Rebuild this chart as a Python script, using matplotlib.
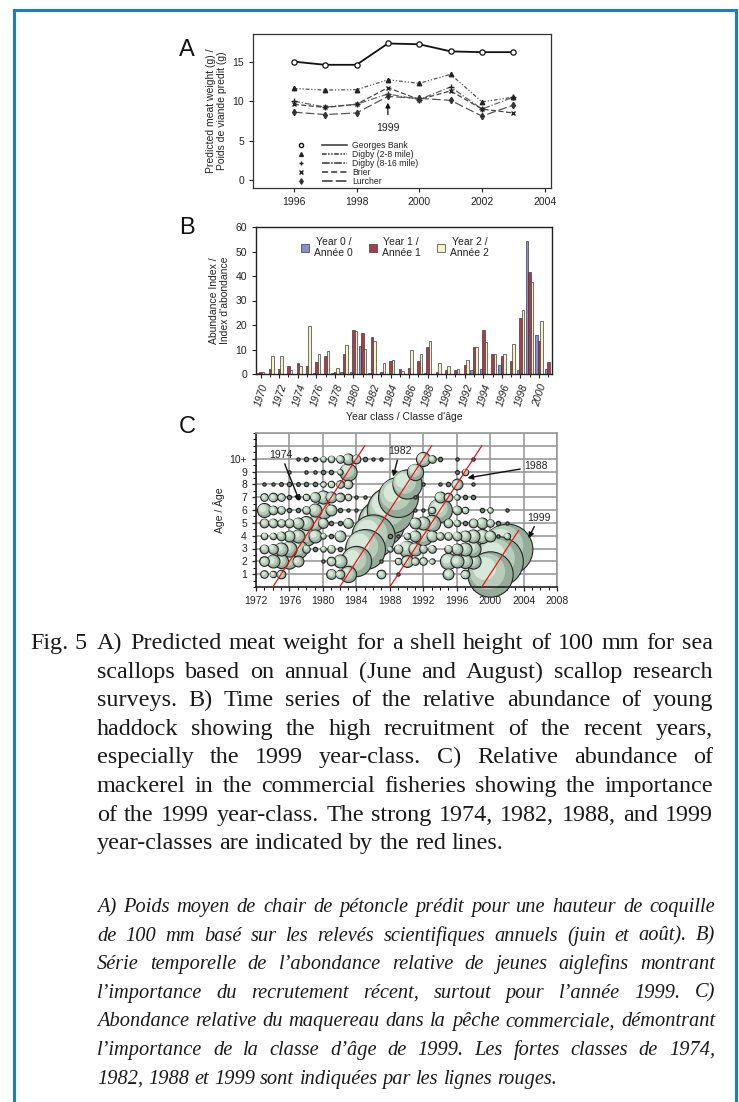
import numpy as np
import matplotlib
matplotlib.use('Agg')
import matplotlib.pyplot as plt
from matplotlib.lines import Line2D
from matplotlib.legend_handler import HandlerTuple
from matplotlib.transforms import offset_copy
from matplotlib.font_manager import FontProperties

plt.rcParams['font.family'] = ['Liberation Sans', 'DejaVu Sans']

W, H = 739, 1102

# ---------------- Panel A: predicted meat weight ----------------
years_a = [1996, 1997, 1998, 1999, 2000, 2001, 2002, 2003]
georges_bank = [15.0, 14.6, 14.6, 17.3, 17.2, 16.3, 16.2, 16.2]
digby_2_8 = [11.6, 11.4, 11.45, 12.7, 12.25, 13.4, 9.9, 10.5]
digby_8_16 = [10.0, 9.25, 9.6, 10.9, 10.2, 11.8, 9.0, 10.5]
brier = [9.6, 9.2, 9.6, 11.7, 10.2, 11.3, 9.0, 8.5]
lurcher = [8.6, 8.3, 8.5, 10.6, 10.35, 10.1, 8.1, 9.5]

# ---------------- Panel B: haddock abundance index ----------------
years_b = list(range(1970, 2002))
year0 = [0.3, 0, 0, 0, 0, 0, 0.3, 0, 0.5, 0.8, 1.0, 11.5, 0.5, 0, 0, 0,
         0, 0, 0.5, 0, 0, 0, 0, 1.5, 2.0, 0, 3.5, 0, 1.7, 54.2, 16.0, 2.2]
year1 = [1.0, 2.2, 2.2, 3.4, 4.4, 3.3, 4.8, 7.2, 0.8, 8.2, 17.9, 16.7, 15.3, 1.0, 5.3, 2.1,
         2.4, 5.3, 10.9, 0.8, 1.7, 1.7, 3.5, 11.2, 17.9, 8.2, 7.2, 5.4, 22.9, 41.5, 13.5, 4.7]
year2 = [0.7, 7.2, 7.4, 1.6, 3.4, 19.6, 8.1, 9.2, 2.3, 11.8, 17.6, 10.2, 13.6, 4.4, 5.8, 1.1,
         9.7, 8.1, 13.3, 4.4, 3.1, 2.1, 5.6, 11.1, 13.0, 8.1, 8.1, 12.4, 26.1, 37.6, 21.7, 0]

# ---------------- Panel C: mackerel catch at age (relative index) ----------------
years_c = list(range(1973, 2003))
#          73 74 75 76 77 78 79 80 81 82 83 84 85 86 87 88 89 90 91 92 93 94 95 96 97 98 99 00 01 02
age1 = [7, 6, 8, 0, 0, 0, 0, 0, 9, 8, 15, 0, 0, 0, 8, 0, 3, 0, 0, 0, 0, 0, 10, 0, 8, 0, 0, 42, 0, 0]
age2 = [9, 12, 13, 14, 10, 0, 0, 3, 8, 12, 0, 28, 0, 0, 3, 0, 6, 11, 7, 7, 5, 0, 15, 12, 13, 14, 0, 0, 46, 0]
age3 = [8, 9, 12, 14, 17, 7, 4, 5, 7, 4, 0, 0, 37, 0, 0, 5, 8, 15, 12, 7, 7, 0, 7, 10, 12, 14, 0, 0, 0, 47]
age4 = [6, 6, 8, 10, 12, 18, 12, 5, 4, 10, 0, 0, 0, 40, 0, 4, 3, 6, 10, 17, 10, 7, 7, 8, 10, 12, 13, 10, 3, 6]
age5 = [8, 8, 7, 8, 10, 13, 14, 9, 4, 4, 9, 0, 0, 0, 43, 0, 0, 0, 10, 12, 15, 0, 8, 6, 4, 8, 10, 7, 4, 3]
age6 = [13, 8, 7, 4, 4, 7, 12, 16, 10, 4, 3, 3, 0, 0, 0, 43, 0, 0, 3, 3, 6, 22, 0, 8, 6, 0, 4, 5, 0, 3]
age7 = [7, 8, 7, 4, 4, 6, 9, 12, 10, 8, 6, 3, 3, 0, 0, 0, 37, 0, 3, 0, 0, 10, 8, 5, 4, 4, 0, 0, 0, 0]
age8 = [3, 3, 3.5, 4, 3.5, 4, 4, 5, 6, 7, 8, 0, 0, 0, 0, 0, 0, 27, 0, 3, 0, 3, 4, 10, 0, 3, 0, 0, 0, 0]
age9 = [0, 0, 0, 3, 0, 3, 3, 4, 4, 5, 16, 0, 0, 0, 0, 0, 0, 0, 15, 0, 0, 0, 0, 3.5, 6, 0, 0, 0, 0, 0]
age10 = [0, 0, 0, 0, 3, 4, 4, 5, 6, 7, 10, 8, 4, 3, 3, 0, 0, 0, 0, 13, 7, 4, 0, 3, 0, 3, 0, 0, 0, 0]
ages_c = [age1, age2, age3, age4, age5, age6, age7, age8, age9, age10]
strong_classes = [1974, 1982, 1988, 1999]
strong_max_age = [11, 11, 11, 4.4]

fig = plt.figure(figsize=(W / 100, H / 100), dpi=100)


def px_axes(l, t, r, b):
    return fig.add_axes([l / W, 1 - b / H, (r - l) / W, (b - t) / H])


TXT = '#222222'
TICK = 7.5

# ---- A ----
axA = px_axes(253, 34, 551, 188)
axA.plot(years_a, georges_bank, '-', color='#111111', lw=1.3, marker='o', ms=3.8,
         mfc='white', mec='#111111', mew=0.9, zorder=5)
axA.plot(years_a, digby_2_8, color='#555555', lw=0.9, ls=(0, (3, 1.5, 1, 1.5, 1, 1.5)),
         marker='^', ms=3.2, mfc='#222222', mec='#222222')
axA.plot(years_a, digby_8_16, color='#666666', lw=0.9, ls=(0, (5, 1.5, 1, 1.5)),
         marker='+', ms=4, mec='#222222', mew=1)
axA.plot(years_a, brier, color='#444444', lw=0.9, ls=(0, (4, 2)),
         marker='x', ms=3.5, mec='#222222', mew=1)
axA.plot(years_a, lurcher, color='#555555', lw=0.9, ls=(0, (7, 2.5)),
         marker='d', ms=3.2, mfc='#333333', mec='#333333')
axA.annotate('1999', xy=(1999, 9.8), xytext=(1999, 6.6), ha='center', va='center',
             fontsize=7.5, color=TXT,
             arrowprops=dict(arrowstyle='-|>', color='#111111', lw=0.9,
                             mutation_scale=7, shrinkA=4, shrinkB=0))
axA.set_xlim(1994.7, 2004.2)
axA.set_ylim(-1, 18.5)
axA.set_xticks(range(1996, 2005, 2))
axA.set_yticks([0, 5, 10, 15])
axA.tick_params(labelsize=TICK, length=3, width=0.8, colors=TXT)
axA.set_ylabel('Predicted meat weight (g) /\nPoids de viande predit (g)', fontsize=TICK,
               color=TXT, labelpad=4, linespacing=1.1)
for s in axA.spines.values():
    s.set_linewidth(0.9)
    s.set_color('#333333')

mk = [dict(marker='o', mfc='white', mec='#111111', ms=3),
      dict(marker='^', mfc='#222222', mec='#222222', ms=2.8),
      dict(marker='+', mec='#222222', ms=3.5),
      dict(marker='x', mec='#222222', ms=3),
      dict(marker='d', mfc='#333333', mec='#333333', ms=2.8)]
lss = ['-', (0, (3, 1, 1, 1, 1, 1)), (0, (5, 1, 1, 1)), (0, (4, 2)), (0, (7, 2))]
lab_a = ['Georges Bank', 'Digby (2-8 mile)', 'Digby (8-16 mile)', 'Brier', 'Lurcher']
handles = []
for m, ls in zip(mk, lss):
    handles.append((Line2D([], [], ls='none', **m),
                    Line2D([], [], ls=ls, color='#333333', lw=1.1)))
legA = axA.legend(handles, lab_a, handler_map={tuple: HandlerTuple(ndivide=None, pad=1.0)},
                  handlelength=6.8, fontsize=6.2, labelspacing=-0.02, frameon=False,
                  loc='upper left', bbox_to_anchor=(0.105, 0.33), handletextpad=0.6,
                  borderpad=0)
for t in legA.get_texts():
    t.set_color(TXT)

# ---- B ----
axB = px_axes(256, 227, 552, 374)
xb = np.array(years_b, dtype=float)
bw = 0.27
axB.bar(xb - bw, year0, bw, color='#8a8ed2', edgecolor='#3a3a3a', lw=0.5, label='Year 0 /\nAnnée 0')
axB.bar(xb, year1, bw, color='#a63e50', edgecolor='#3a3a3a', lw=0.5, label='Year 1 /\nAnnée 1')
axB.bar(xb + bw, year2, bw, color='#f7f2c6', edgecolor='#3a3a3a', lw=0.5, label='Year 2 /\nAnnée 2')
axB.set_xlim(1969.5, 2001.4)
axB.set_ylim(0, 60)
axB.set_yticks(range(0, 61, 10))
axB.set_xticks(range(1970, 2001, 2))
axB.set_xticks(range(1970, 2002), minor=True)
axB.tick_params(labelsize=TICK, length=3, width=0.8, colors=TXT)
axB.tick_params(which='minor', length=2, width=0.6)
for lab in axB.get_xticklabels():
    lab.set_rotation(72)
    lab.set_ha('right')
    lab.set_va('top')
    lab.set_rotation_mode('anchor')
    lab.set_fontstyle('italic')
axB.set_ylabel('Abundance Index /\nIndex d\'abondance', fontsize=TICK, color=TXT,
               labelpad=4, linespacing=1.1)
axB.set_xlabel('Year class / Classe d\'âge', fontsize=TICK, color=TXT, labelpad=3)
for s in axB.spines.values():
    s.set_linewidth(1.0)
    s.set_color('#222222')
legB = axB.legend(ncol=3, fontsize=TICK, frameon=False, loc='upper center',
                  bbox_to_anchor=(0.47, 0.97), handlelength=0.7, handleheight=0.9,
                  handletextpad=0.5, columnspacing=1.6, borderpad=0)
for t in legB.get_texts():
    t.set_multialignment('center')
    t.set_color(TXT)

# ---- C ----
axC = px_axes(256, 433, 557, 587)
axC.set_xlim(1972, 2008)
axC.set_ylim(0, 12)
axC.set_xticks(range(1972, 2009, 4))
axC.set_xticks(range(1972, 2009), minor=True)
axC.set_yticks(range(1, 11))
axC.set_yticklabels([str(a) for a in range(1, 10)] + ['10+'])
axC.set_yticks(np.arange(0, 12.01, 0.5), minor=True)
axC.tick_params(labelsize=TICK, length=3, width=0.9, colors=TXT)
axC.tick_params(which='minor', length=2, width=0.7)
axC.grid(True, which='major', color='#9a9a9a', lw=1.2)
for yy in (11, 12):
    axC.axhline(yy, color='#9a9a9a', lw=1.2, zorder=0)
axC.set_axisbelow(True)
for side in ('top', 'right'):
    axC.spines[side].set_color('#9a9a9a')
    axC.spines[side].set_linewidth(1.2)
for side in ('left', 'bottom'):
    axC.spines[side].set_color('#222222')
    axC.spines[side].set_linewidth(1.2)
axC.set_ylabel('Age / Âge', fontsize=TICK, color=TXT, labelpad=3)

pts = []
for ai, row in enumerate(ages_c):
    for yr, v in zip(years_c, row):
        if v > 0:
            pts.append((v, yr, ai + 1))
pts.sort(key=lambda p: -p[0])
z = 2.0
for v, yr, age in pts:
    d = v * 0.72 * 1.08
    small = v < 5
    axC.scatter([yr], [age], s=d ** 2, c='#6f8673' if small else '#93ab97',
                edgecolors='#262626', linewidths=0.9 if small else 0.8,
                zorder=z, clip_on=False)
    if not small:
        t1 = offset_copy(axC.transData, fig=fig, x=-0.07 * d, y=0.07 * d, units='points')
        axC.scatter([yr], [age], s=(0.78 * d) ** 2, c='#b7cdba', linewidths=0,
                    transform=t1, zorder=z + 0.01, clip_on=False)
        t2 = offset_copy(axC.transData, fig=fig, x=-0.14 * d, y=0.14 * d, units='points')
        axC.scatter([yr], [age], s=(0.5 * d) ** 2, c='#d7e8d8', linewidths=0,
                    transform=t2, zorder=z + 0.02, clip_on=False)
    z += 0.05

for yc, amax in zip(strong_classes, strong_max_age):
    axC.plot([yc, yc + amax], [0, amax], color='#e8141c', lw=0.9, zorder=50)

arrow_kw = dict(arrowstyle='-|>', color='#111111', lw=1.0, mutation_scale=8,
                shrinkA=1, shrinkB=0)
axC.annotate('1974', xy=(1977.2, 6.7), xytext=(1975.0, 10.3), ha='center', va='center',
             fontsize=TICK, color=TXT, arrowprops=arrow_kw, zorder=60)
axC.annotate('1982', xy=(1988.4, 8.6), xytext=(1989.2, 10.6), ha='center', va='center',
             fontsize=TICK, color=TXT, arrowprops=arrow_kw, zorder=60)
axC.annotate('1988', xy=(1997.3, 8.5), xytext=(2005.5, 9.4), ha='center', va='center',
             fontsize=TICK, color=TXT, arrowprops=arrow_kw, zorder=60)
axC.annotate('1999', xy=(2004.6, 3.8), xytext=(2005.8, 5.4), ha='center', va='center',
             fontsize=TICK, color=TXT, arrowprops=arrow_kw, zorder=60)

# panel letters
for letter, (lx, ly) in zip('ABC', [(187, 50), (187, 228), (187, 427)]):
    fig.text(lx / W, 1 - ly / H, letter, fontsize=17, ha='center', va='center', color='#111111')

# ---------------- caption ----------------
renderer = fig.canvas.get_renderer()

en_lines = [
    'A) Predicted meat weight for a shell height of 100 mm for sea',
    'scallops based on annual (June and August) scallop research',
    'surveys. B) Time series of the relative abundance of young',
    'haddock showing the high recruitment of the recent years,',
    'especially the 1999 year-class. C) Relative abundance of',
    'mackerel in the commercial fisheries showing the importance',
    'of the 1999 year-class. The strong 1974, 1982, 1988, and 1999',
    'year-classes are indicated by the red lines.',
]
fr_lines = [
    'A) Poids moyen de chair de pétoncle prédit pour une hauteur de coquille',
    'de 100 mm basé sur les relevés scientifiques annuels (juin et août). B)',
    'Série temporelle de l\u2019abondance relative de jeunes aiglefins montrant',
    'l\u2019importance du recrutement récent, surtout pour l\u2019année 1999. C)',
    'Abondance relative du maquereau dans la pêche commerciale, démontrant',
    'l\u2019importance de la classe d\u2019âge de 1999. Les fortes classes de 1974,',
    '1982, 1988 et 1999 sont indiquées par les lignes rouges.',
]


def text_width(s, fp):
    t = fig.text(0, 0, s, fontproperties=fp)
    w = t.get_window_extent(renderer).width
    t.remove()
    return w


def fit_size(lines, target, style):
    # largest font size at which the widest justified line still fits
    base = 14.0
    fp = FontProperties(family='Liberation Serif', style=style, size=base)
    widest = max(text_width(ln, fp) for ln in lines[:-1])
    return base * target / widest


def put_line(line, x0, x1, y, fp, justify=True):
    words = line.split()
    ts = [fig.text(0, 0, w, fontproperties=fp, color='#1a1a1a', va='baseline', ha='left')
          for w in words]
    ws = [t.get_window_extent(renderer).width for t in ts]
    space = text_width('a a', fp) - text_width('aa', fp)
    if justify and len(ws) > 1:
        gap = (x1 - x0 - sum(ws)) / (len(ws) - 1)
    else:
        gap = space
    x = x0
    for t, w in zip(ts, ws):
        t.set_position((x / W, 1 - y / H))
        x += w + gap


fp_en = FontProperties(family='Liberation Serif', size=min(fit_size(en_lines, 606, 'normal'), 18.5))
fp_fr = FontProperties(family='Liberation Serif', style='italic',
                       size=min(fit_size(fr_lines, 612, 'italic'), 17))

put_line('Fig. 5', 30, 80, 649, fp_en, justify=False)
for i, ln in enumerate(en_lines):
    put_line(ln, 97, 713, 649 + 28.6 * i, fp_en, justify=i < len(en_lines) - 1)
for i, ln in enumerate(fr_lines):
    put_line(ln, 97, 715, 912 + 28.6 * i, fp_fr, justify=i < len(fr_lines) - 1)

# blue frame
blue = '#1b7dc3'
fig.add_artist(Line2D([14 / W, 736 / W], [1 - 10 / H, 1 - 10 / H], color=blue, lw=2.2))
fig.add_artist(Line2D([14 / W, 14 / W], [1 - 10 / H, 0], color=blue, lw=2.2))
fig.add_artist(Line2D([736 / W, 736 / W], [1 - 10 / H, 0], color=blue, lw=2.2))

fig.savefig('out.png', dpi=100)
